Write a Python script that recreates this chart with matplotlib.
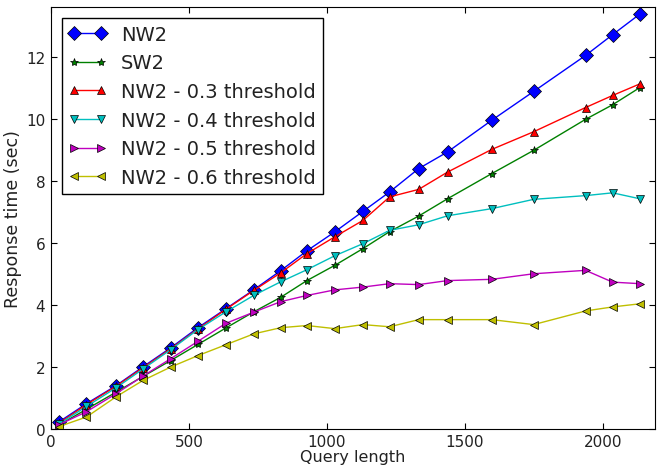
import matplotlib
matplotlib.use('Agg')
import matplotlib.pyplot as plt

query_len = [29, 129, 236, 334, 434, 533, 634, 735, 833, 928, 1029,
             1131, 1228, 1333, 1438, 1598, 1750, 1938, 2036, 2134]

nw2 = [0.22, 0.81, 1.39, 2.00, 2.61, 3.26, 3.87, 4.48, 5.10, 5.74, 6.35,
       7.01, 7.64, 8.39, 8.93, 9.95, 10.88, 12.04, 12.71, 13.37]
sw2 = [0.12, 0.63, 1.18, 1.69, 2.20, 2.72, 3.25, 3.77, 4.24, 4.78, 5.27,
       5.81, 6.36, 6.86, 7.42, 8.23, 8.98, 9.98, 10.45, 11.00]
nw2_03 = [0.18, 0.78, 1.37, 1.97, 2.58, 3.22, 3.85, 4.46, 5.03, 5.65, 6.19,
          6.72, 7.48, 7.72, 8.28, 9.01, 9.58, 10.36, 10.75, 11.12]
nw2_04 = [0.15, 0.72, 1.32, 1.93, 2.55, 3.20, 3.77, 4.30, 4.74, 5.13, 5.58,
          5.97, 6.40, 6.58, 6.87, 7.10, 7.40, 7.52, 7.61, 7.42]
nw2_05 = [0.13, 0.55, 1.13, 1.70, 2.26, 2.82, 3.40, 3.76, 4.10, 4.30, 4.48,
          4.57, 4.68, 4.65, 4.78, 4.82, 5.00, 5.11, 4.73, 4.68]
nw2_06 = [0.07, 0.38, 1.03, 1.56, 1.99, 2.36, 2.71, 3.06, 3.26, 3.33, 3.23,
          3.36, 3.29, 3.52, 3.52, 3.52, 3.36, 3.80, 3.93, 4.03]

series = [
    ('NW2', nw2, (0, 0, 1), 'D', 7),
    ('SW2', sw2, (0, 0.5, 0), '*', 6),
    ('NW2 - 0.3 threshold', nw2_03, (1, 0, 0), '^', 6),
    ('NW2 - 0.4 threshold', nw2_04, (0, 0.75, 0.75), 'v', 6),
    ('NW2 - 0.5 threshold', nw2_05, (0.75, 0, 0.75), '>', 6),
    ('NW2 - 0.6 threshold', nw2_06, (0.75, 0.75, 0), '<', 6),
]

plt.rcParams['xtick.direction'] = 'in'
plt.rcParams['ytick.direction'] = 'in'
plt.rcParams['xtick.top'] = True
plt.rcParams['ytick.right'] = True
txt = '#222222'

fig = plt.figure(figsize=(6.61, 4.77), dpi=100)
ax = fig.add_axes([0.077, 0.099, 0.914, 0.884])

for name, vals, col, mk, ms in series:
    ax.plot(query_len, vals, color=col, marker=mk, markersize=ms,
            markeredgecolor='black', markeredgewidth=0.5, linewidth=1,
            label=name)

ax.set_xlim(0, 2190)
ax.set_ylim(0, 13.6)
ax.set_xticks([0, 500, 1000, 1500, 2000])
ax.set_yticks([0, 2, 4, 6, 8, 10, 12])
ax.tick_params(labelsize=11, length=4, width=0.8, pad=4, labelcolor=txt)
ax.set_xlabel('Query length', fontsize=11.5, labelpad=0, color=txt)
ax.set_ylabel('Response time (sec)', fontsize=12.5, labelpad=3, color=txt)

leg = ax.legend(loc='upper left', fontsize=14, numpoints=2, fancybox=False,
                framealpha=1, handlelength=2.0, handletextpad=0.7,
                borderpad=0.35, labelspacing=0.5, borderaxespad=0.55)
leg.get_frame().set_edgecolor('black')
for t in leg.get_texts():
    t.set_color(txt)

fig.savefig('out.png', dpi=100)
